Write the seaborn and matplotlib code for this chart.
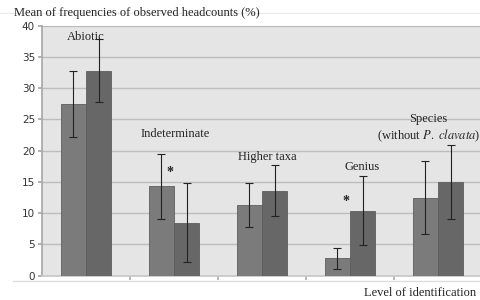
import matplotlib
matplotlib.use("Agg")
import matplotlib.pyplot as plt
import seaborn as sns
import pandas as pd

# Values
levels = ["Abiotic", "Indeterminate", "Higher taxa", "Genius", "Species"]
periods = ["first", "second"]
mean_first = [27.5, 14.3, 11.3, 2.8, 12.5]
mean_second = [32.8, 8.5, 13.6, 10.4, 15.0]
err_first = [5.3, 5.2, 3.5, 1.7, 5.8]
err_second = [5.1, 6.3, 4.1, 5.5, 5.9]
star_levels = ["Indeterminate", "Genius"]
star_heights = [16.5, 11.8]

df = pd.DataFrame({
    "level": levels * 2,
    "period": [periods[0]] * 5 + [periods[1]] * 5,
    "mean": mean_first + mean_second,
    "err": err_first + err_second,
})

sns.set_theme(style="white")
plt.rcParams["font.family"] = ["Liberation Serif", "DejaVu Serif"]
plt.rcParams["mathtext.fontset"] = "stix"

fig = plt.figure(figsize=(4.8, 3.0), dpi=100)
ax = fig.add_axes([42 / 480, 1 - 275.7 / 300, 440 / 480, 250.2 / 300])
ax.set_facecolor("#e5e5e5")

sns.barplot(data=df, x="level", y="mean", hue="period", order=levels,
            hue_order=periods, palette=["#7b7b7b", "#676767"], width=0.57,
            errorbar=None, edgecolor="#5e5e5e", linewidth=0.6, ax=ax,
            legend=False, zorder=3)

# error bars at the bar centres
for bar_group, period in zip([ax.containers[0], ax.containers[1]], periods):
    sub = df[df["period"] == period].set_index("level").loc[levels]
    xs = [b.get_x() + b.get_width() / 2 for b in bar_group]
    ax.errorbar(xs, sub["mean"], yerr=sub["err"], fmt="none", ecolor="#222222",
                elinewidth=0.8, capsize=3, capthick=0.8, zorder=4)

ax.set_ylim(0, 40)
ax.set_xlim(-0.5, 4.5)
ax.set_yticks(range(0, 41, 5))
for y in range(5, 40, 5):
    ax.axhline(y, color="#bdbdbd", lw=1.0, zorder=1)
ax.axhline(40, color="#b8b8b8", lw=1.6, zorder=1)

for s in ["top", "right"]:
    ax.spines[s].set_visible(False)
ax.spines["left"].set_color("#a8a8a8")
ax.spines["bottom"].set_color("#c8c8c8")
ax.tick_params(axis="y", labelsize=7.5, labelcolor="#333333", length=3,
               color="#a8a8a8", left=True, pad=2)
for t in ax.get_yticklabels():
    t.set_family("DejaVu Sans")
ax.set_xticks([0.5, 1.5, 2.5, 3.5])
ax.set_xticklabels([])
ax.tick_params(axis="x", length=3, color="#b0b0b0", bottom=True)
ax.set_xlabel("")
ax.set_ylabel("")

# category labels
lab_kw = dict(fontsize=9, color="#222222", zorder=5)
ax.text(0.0, 38.2, "Abiotic", ha="center", va="center", **lab_kw)
ax.text(1.01, 22.7, "Indeterminate", ha="center", va="center", **lab_kw)
ax.text(2.06, 19.0, "Higher taxa", ha="center", va="center", **lab_kw)
ax.text(3.14, 17.4, "Genius", ha="center", va="center", **lab_kw)
ax.text(3.89, 25.0, "Species", ha="center", va="center", **lab_kw)
ax.text(3.31, 22.4, r"(without $\it{P.\ clavata}$)", ha="left", va="center",
        **lab_kw)

for lv, h in zip(star_levels, star_heights):
    ax.text(levels.index(lv) - 0.05, h, "*", ha="center", va="center",
            fontsize=10, fontweight="bold", color="#222222", zorder=5)

fig.text(14 / 480, 1 - 13 / 300, "Mean of frequencies of observed headcounts (%)",
         ha="left", va="center", fontsize=9, color="#222222")
fig.text(476 / 480, 1 - 293 / 300, "Level of identification",
         ha="right", va="center", fontsize=9, color="#222222")
fig.add_artist(plt.Line2D([0.0, 1.0], [1 - 13 / 300, 1 - 13 / 300],
                          color="#ececec", lw=1, zorder=0))
fig.add_artist(plt.Line2D([13 / 480, 1.0], [1 - 280.7 / 300, 1 - 280.7 / 300],
                          color="#dddddd", lw=1, zorder=0))

fig.savefig("out.png", dpi=100)
